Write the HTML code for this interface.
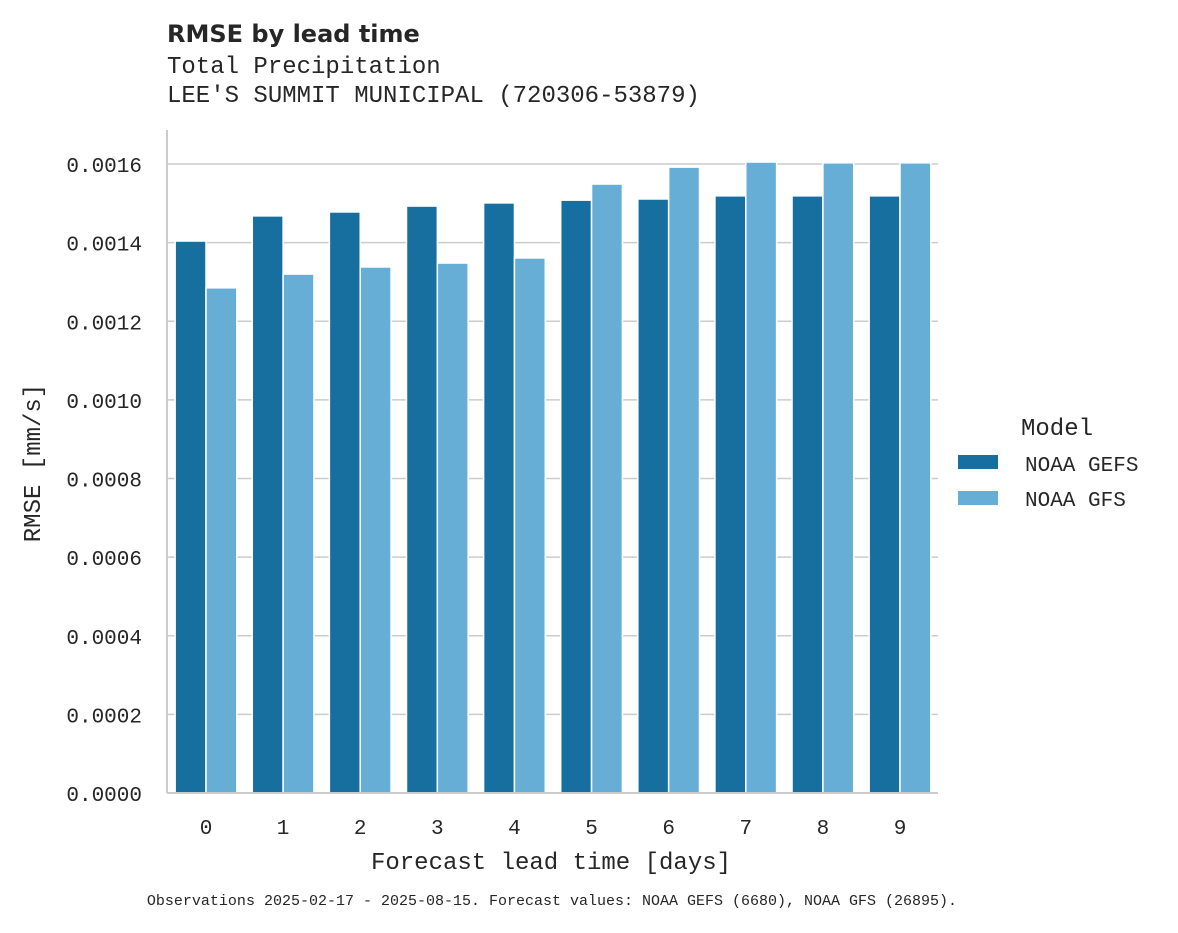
<!DOCTYPE html>
<html><head><meta charset="utf-8"><style>
body{margin:0;background:#fff;}
svg text{font-family:"Liberation Mono","DejaVu Sans Mono",monospace;fill:#262626;}
</style></head><body>
<svg id="chart" width="1178" height="928">
<text x="167" y="42" style="font-family:'DejaVu Sans','Liberation Sans',sans-serif;font-weight:bold;font-size:24px">RMSE by lead time</text>
<text x="167" y="73" font-size="24">Total Precipitation</text>
<text x="167" y="102" font-size="24">LEE'S SUMMIT MUNICIPAL (720306-53879)</text>
<g id="grid"></g><g id="bars"></g><g id="axes"></g>
<text x="551" y="869" font-size="24" text-anchor="middle">Forecast lead time [days]</text>
<text transform="translate(40,463) rotate(-90)" font-size="24" text-anchor="middle">RMSE [mm/s]</text>
<text x="1057" y="435" font-size="24" text-anchor="middle">Model</text>
<rect x="958" y="455" width="40" height="14" fill="#176fa0"/>
<text x="1025" y="471" font-size="21">NOAA GEFS</text>
<rect x="958" y="491" width="40" height="14" fill="#67aed7"/>
<text x="1025" y="506" font-size="21">NOAA GFS</text>
<text x="552" y="905" font-size="15" text-anchor="middle">Observations 2025-02-17 - 2025-08-15. Forecast values: NOAA GEFS (6680), NOAA GFS (26895).</text>
</svg>
<script>
const categories=["0","1","2","3","4","5","6","7","8","9"];
const gefs=[0.001404,0.001468,0.001478,0.001493,0.001501,0.001508,0.001511,0.001519,0.001519,0.001519];
const gfs=[0.001285,0.00132,0.001338,0.001348,0.001361,0.001549,0.001592,0.001605,0.001603,0.001603];
const yTicks=[0,0.0002,0.0004,0.0006,0.0008,0.001,0.0012,0.0014,0.0016];
const yTickLabels=["0.0000","0.0002","0.0004","0.0006","0.0008","0.0010","0.0012","0.0014","0.0016"];
const NS="http://www.w3.org/2000/svg";
const L=167,R=938,B=793,T=130;
const y=v=>B-v*(793-164)/0.0016;
const step=(900-206)/9;
const x=i=>206+i*step;
function mk(tag,attrs,parent){const e=document.createElementNS(NS,tag);for(const k in attrs)e.setAttribute(k,attrs[k]);document.getElementById(parent).appendChild(e);return e;}
yTicks.forEach((t,i)=>{
 const g=mk('line',{x1:L,x2:R,y1:y(t),y2:y(t),stroke:'#cccccc','stroke-width':1.5},'grid');
 
 
 const tx=mk('text',{x:142,y:y(t)+8,'font-size':21,'text-anchor':'end'},'axes');
 tx.textContent=yTickLabels[i];
 
 
});
const bw=step*0.4;
categories.forEach((c,i)=>{
 const a=mk('rect',{x:x(i)-bw,y:y(gefs[i]),width:bw,height:B-y(gefs[i]),fill:'#176fa0',stroke:'#fff','stroke-width':1.5},'bars');
 
 
 const b=mk('rect',{x:x(i),y:y(gfs[i]),width:bw,height:B-y(gfs[i]),fill:'#67aed7',stroke:'#fff','stroke-width':1.5},'bars');
 
 
 const tx=mk('text',{x:x(i),y:834,'font-size':21,'text-anchor':'middle'},'axes');
 tx.textContent=c;
 
 
});
const s1=mk('line',{x1:L,x2:L,y1:T,y2:B,stroke:'#cccccc','stroke-width':2},'axes');


const s2=mk('line',{x1:L,x2:R,y1:B,y2:B,stroke:'#cccccc','stroke-width':2},'axes');


</script>
</body></html>
